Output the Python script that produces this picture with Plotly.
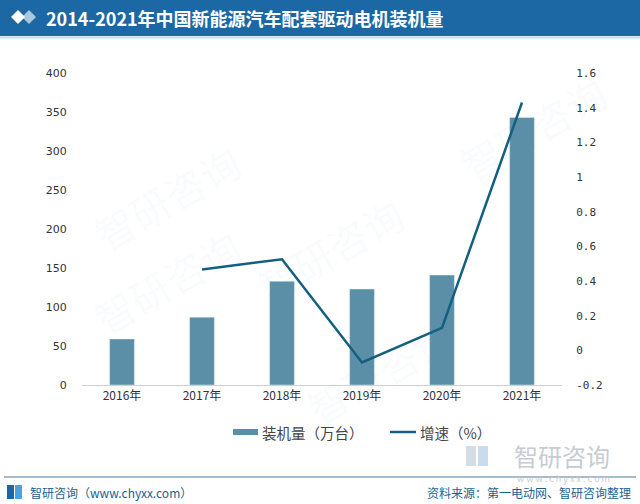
import plotly.graph_objects as go

categories = ["2016年", "2017年", "2018年", "2019年", "2020年", "2021年"]
install = [59, 87, 133, 123, 141, 343]
growth = [None, 0.467, 0.525, -0.07, 0.13, 1.43]
left_ticks = [0, 50, 100, 150, 200, 250, 300, 350, 400]
right_ticks = [-0.2, 0, 0.2, 0.4, 0.6, 0.8, 1, 1.2, 1.4, 1.6]
right_labels = ["-0.2", "0", "0.2", "0.4", "0.6", "0.8", "1", "1.2", "1.4", "1.6"]
series_names = ["装机量（万台）", "增速（%）"]

W, H = 640, 504
L, R, T, B = 82, 562, 73, 385

def px(x):
    return (x - L) / (R - L)

def py(y):
    return (B - y) / (B - T)

BAR = "#5b8fa8"
LINE = "#135f80"
TXT = "#333333"
FONT = "Noto Sans CJK SC"

fig = go.Figure()
fig.add_trace(go.Bar(x=categories, y=install, name=series_names[0], marker_color=BAR,
                     yaxis="y", showlegend=False))
fig.add_trace(go.Scatter(x=categories, y=growth, name=series_names[1], mode="lines",
                         line=dict(color=LINE, width=2.5), yaxis="y2", showlegend=False))

shapes = []
# title bar
shapes.append(dict(type="rect", xref="paper", yref="paper", x0=px(0), x1=px(W), y0=py(36), y1=py(0),
                   fillcolor="#1c68a4", line_width=0, layer="below"))
shapes.append(dict(type="line", xref="paper", yref="paper", x0=px(0), x1=px(W), y0=py(37.5), y1=py(37.5),
                   line=dict(color="#bfe0f2", width=2)))
# diamonds icon
def diamond(cx, cy, r, color):
    return dict(type="path", xref="paper", yref="paper",
                path=f"M {px(cx-r)} {py(cy)} L {px(cx)} {py(cy-r)} L {px(cx+r)} {py(cy)} L {px(cx)} {py(cy+r)} Z",
                fillcolor=color, line_width=0)
shapes.append(diamond(29, 17, 7, "#a9c8e0"))
shapes.append(diamond(18, 17, 7, "#ffffff"))
# legend swatches
shapes.append(dict(type="rect", xref="paper", yref="paper", x0=px(233), x1=px(258), y0=py(435), y1=py(429),
                   fillcolor=BAR, line_width=0))
shapes.append(dict(type="line", xref="paper", yref="paper", x0=px(390), x1=px(416), y0=py(432), y1=py(432),
                   line=dict(color=LINE, width=2.5)))
# footer line
shapes.append(dict(type="line", xref="paper", yref="paper", x0=px(4), x1=px(636), y0=py(477), y1=py(477),
                   line=dict(color="#8aa6b8", width=1.5)))
# footer logo icon
shapes.append(dict(type="rect", xref="paper", yref="paper", x0=px(7), x1=px(14), y0=py(499), y1=py(485),
                   fillcolor="#1c68a4", line_width=0))
shapes.append(dict(type="rect", xref="paper", yref="paper", x0=px(15), x1=px(22), y0=py(499), y1=py(485),
                   fillcolor="#4aa3df", line_width=0))
# bottom-right watermark logo icon
shapes.append(dict(type="rect", xref="paper", yref="paper", x0=px(466), x1=px(476), y0=py(466), y1=py(446),
                   fillcolor="#d4dde6", line_width=0))
shapes.append(dict(type="rect", xref="paper", yref="paper", x0=px(478), x1=px(488), y0=py(466), y1=py(446),
                   fillcolor="#c9dcef", line_width=0))

annotations = [
    dict(text="<b>2014-2021年中国新能源汽车配套驱动电机装机量</b>", xref="paper", yref="paper",
         x=px(44), y=py(18), xanchor="left", yanchor="middle", showarrow=False,
         font=dict(family=FONT, size=18, color="white")),
    dict(text=series_names[0], xref="paper", yref="paper", x=px(260), y=py(432),
         xanchor="left", yanchor="middle", showarrow=False,
         font=dict(family=FONT, size=14.5, color="#444444")),
    dict(text=series_names[1], xref="paper", yref="paper", x=px(418), y=py(432),
         xanchor="left", yanchor="middle", showarrow=False,
         font=dict(family=FONT, size=14.5, color="#444444")),
    dict(text="智研咨询（www.chyxx.com）", xref="paper", yref="paper", x=px(28), y=py(492),
         xanchor="left", yanchor="middle", showarrow=False,
         font=dict(family=FONT, size=12, color="#1c5f8f")),
    dict(text="资料来源：第一电动网、智研咨询整理", xref="paper", yref="paper", x=px(633), y=py(492),
         xanchor="right", yanchor="middle", showarrow=False,
         font=dict(family=FONT, size=12, color="#1c5f8f")),
    dict(text="智研咨询", xref="paper", yref="paper", x=px(612), y=py(455),
         xanchor="right", yanchor="middle", showarrow=False,
         font=dict(family=FONT, size=24, color="#c8ccd0")),
    dict(text="w w w . c h y x x . c o m", xref="paper", yref="paper", x=px(612), y=py(478),
         xanchor="right", yanchor="middle", showarrow=False,
         font=dict(family=FONT, size=9, color="#c8ccd0")),
]
# faint watermarks
for (wx, wy) in [(80, 130), (330, 250), (620, 60), (80, 350), (380, 440)]:
    annotations.append(dict(text="智研咨询", xref="paper", yref="paper", x=px(wx), y=py(wy),
                            showarrow=False, textangle=-30,
                            font=dict(family=FONT, size=40, color="rgba(120,140,170,0.05)")))

fig.update_layout(
    width=W, height=H,
    margin=dict(l=L, r=W - R, t=T, b=H - B, pad=0),
    paper_bgcolor="white", plot_bgcolor="white",
    bargap=0.69,
    showlegend=False,
    font=dict(family=FONT, size=12, color=TXT),
    xaxis=dict(showgrid=False, showline=True, linecolor="#d0d0d0", linewidth=1, ticks="",
               tickfont=dict(family=FONT, size=12, color=TXT)),
    yaxis=dict(range=[0, 400], tickvals=left_ticks, showgrid=False, zeroline=False, showline=False,
               ticks="outside", ticklen=12, tickcolor="rgba(0,0,0,0)",
               tickfont=dict(family="DejaVu Sans", size=11, color=TXT)),
    yaxis2=dict(range=[-0.2, 1.6], tickvals=right_ticks, ticktext=right_labels, overlaying="y",
                side="right", showgrid=False, zeroline=False, showline=False,
                ticks="outside", ticklen=11, tickcolor="rgba(0,0,0,0)",
                tickfont=dict(family="DejaVu Sans Mono", size=11, color=TXT)),
    shapes=shapes, annotations=annotations,
)

fig.write_html("out.html")
